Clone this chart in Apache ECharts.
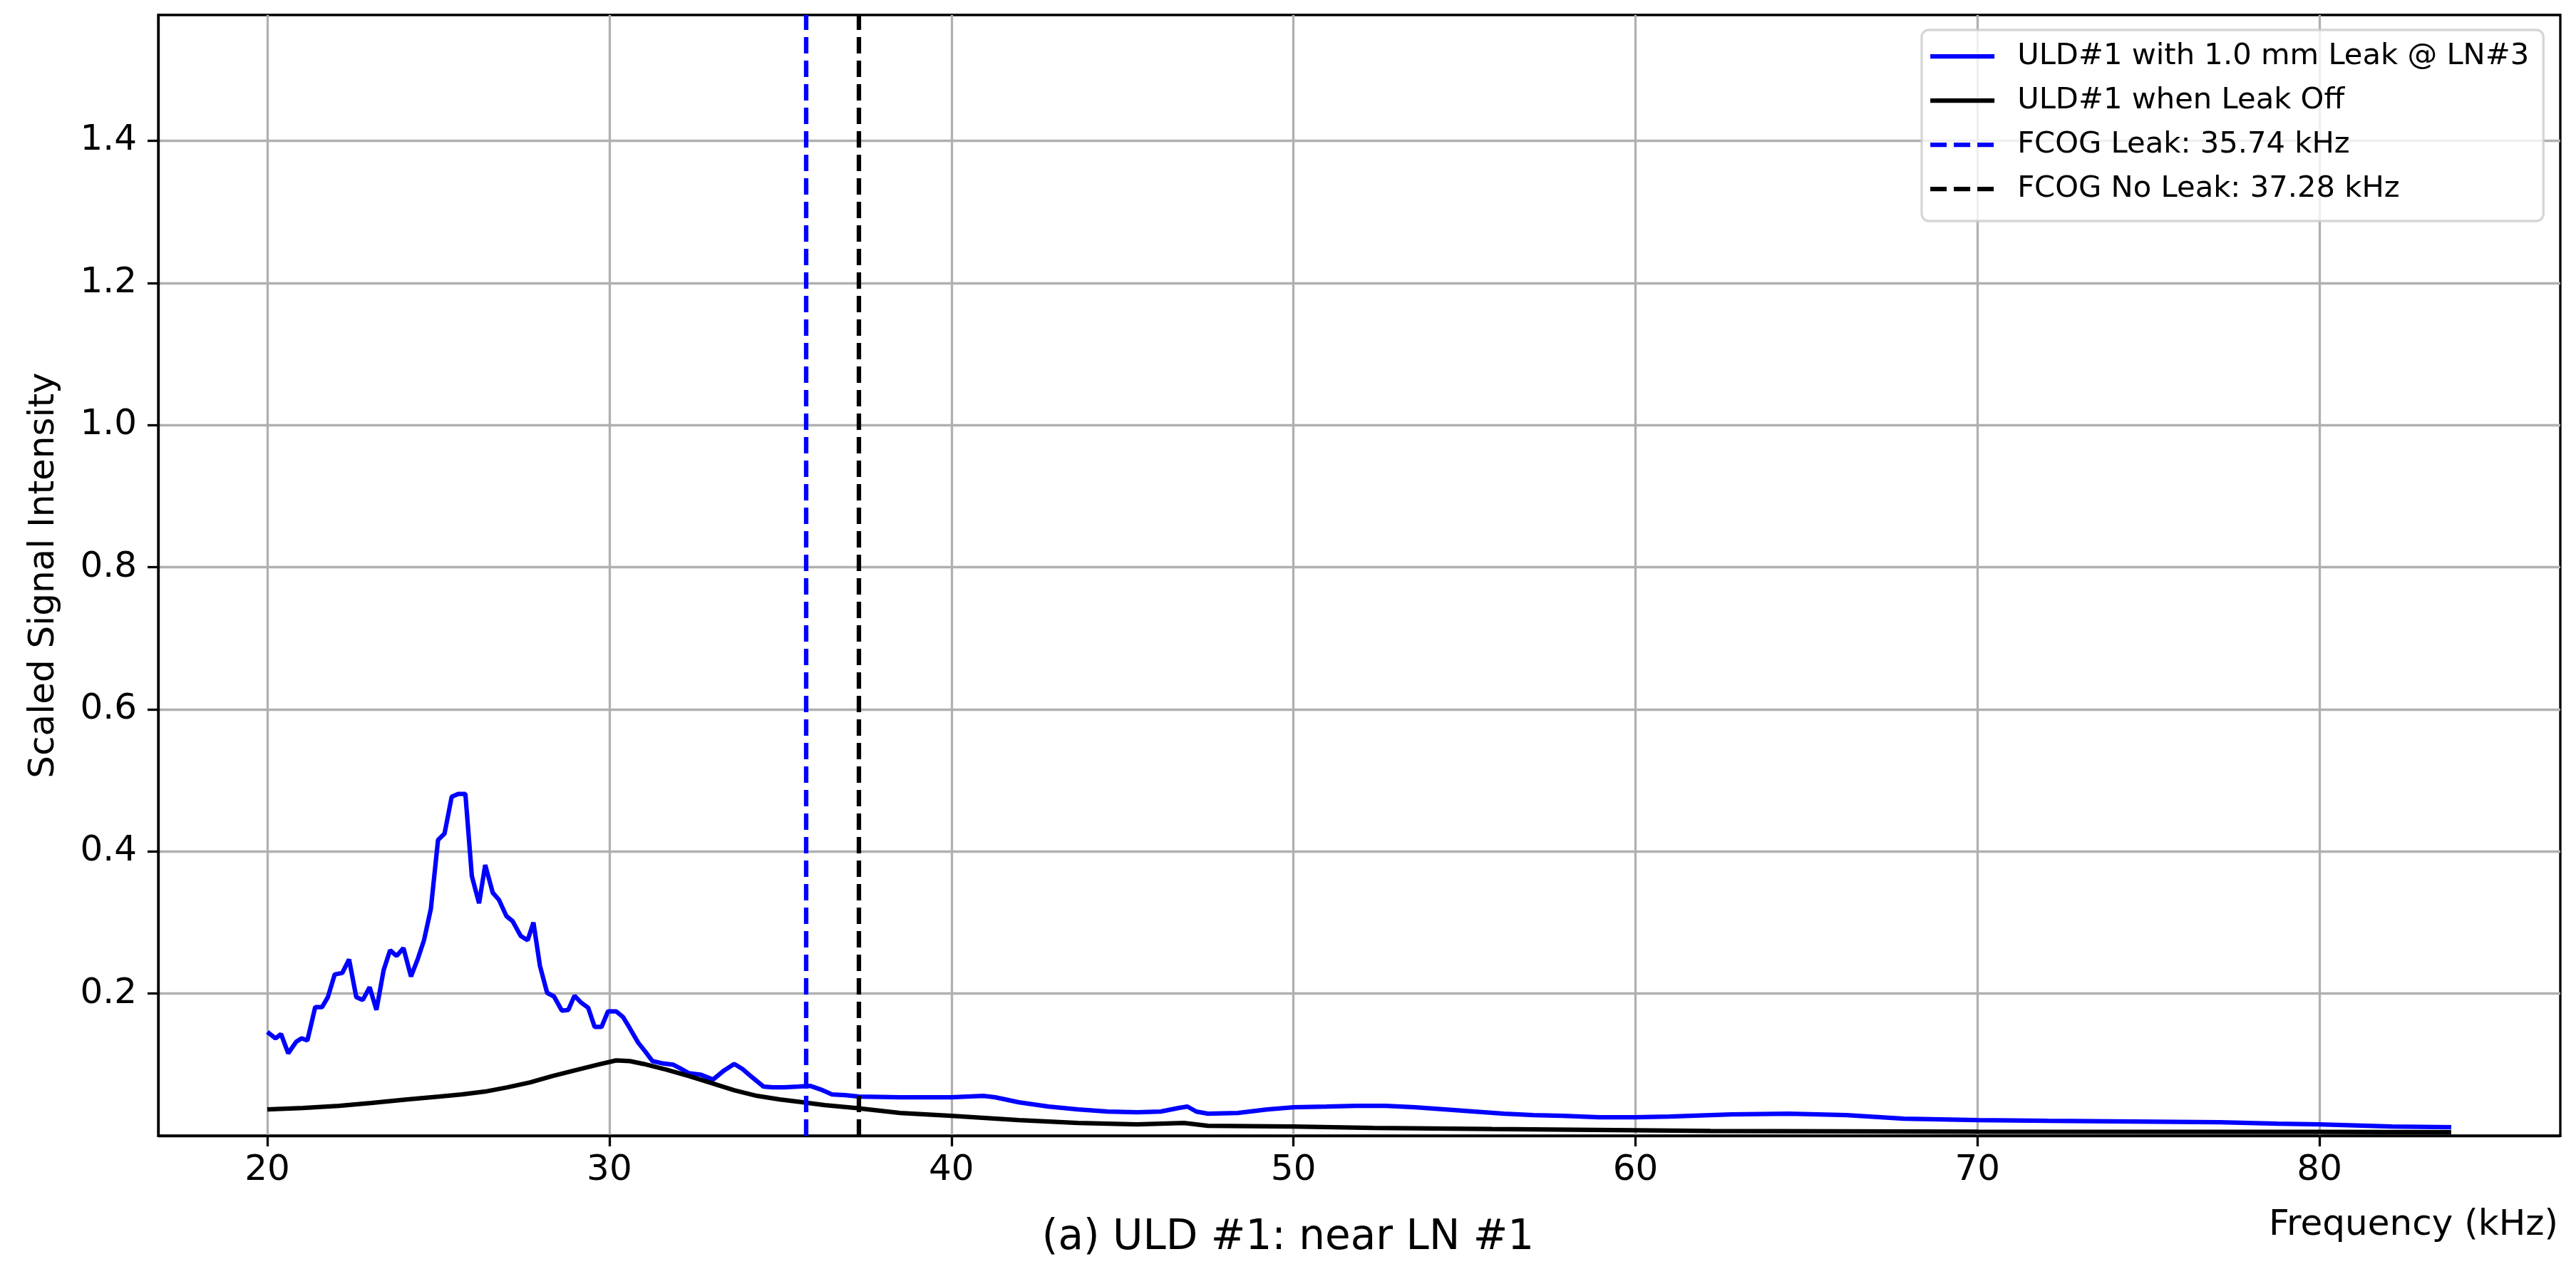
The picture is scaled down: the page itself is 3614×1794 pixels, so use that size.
<!DOCTYPE html>
<html>
<head>
<meta charset="utf-8">
<script src="https://cdn.jsdelivr.net/npm/echarts@6/dist/echarts.min.js"></script>
<style>
html,body{margin:0;padding:0;background:#fff;}
#chart{width:3614px;height:1794px;}
</style>
</head>
<body>
<div id="chart"></div>
<script>
// ---- data ----
const freqLeak = [20.0,20.24,20.4,20.61,20.84,21.0,21.17,21.4,21.6,21.77,21.97,22.19,22.39,22.6,22.79,22.99,23.19,23.4,23.59,23.78,23.98,24.2,24.4,24.58,24.78,24.99,25.18,25.39,25.58,25.79,25.98,26.19,26.37,26.59,26.77,26.99,27.17,27.41,27.61,27.78,27.97,28.18,28.38,28.61,28.8,28.98,29.18,29.38,29.57,29.77,29.96,30.2,30.4,30.6,30.84,31.04,31.26,31.53,31.86,32.06,32.32,32.66,33.03,33.36,33.65,33.89,34.18,34.51,34.78,35.11,35.51,35.88,36.18,36.51,36.9,37.3,38.5,40.0,40.93,41.28,41.97,42.84,43.7,44.57,45.43,46.12,46.64,46.9,47.16,47.5,48.37,49.24,50.0,50.97,51.83,52.7,53.56,54.43,55.29,56.16,57.02,57.89,58.93,60.0,61.0,62.8,64.49,66.17,67.85,70.0,72.05,74.57,77.09,78.77,80.0,82.13,83.85];
const sigLeak = [0.146,0.137,0.143,0.116,0.132,0.137,0.134,0.181,0.181,0.195,0.227,0.229,0.248,0.195,0.191,0.209,0.177,0.233,0.261,0.253,0.264,0.224,0.249,0.275,0.319,0.416,0.425,0.477,0.481,0.481,0.365,0.327,0.381,0.342,0.332,0.309,0.302,0.281,0.275,0.300,0.239,0.201,0.196,0.176,0.177,0.197,0.187,0.180,0.153,0.153,0.175,0.175,0.167,0.151,0.131,0.119,0.105,0.102,0.100,0.095,0.088,0.086,0.079,0.092,0.101,0.094,0.082,0.069,0.068,0.068,0.069,0.070,0.065,0.058,0.057,0.055,0.054,0.054,0.056,0.054,0.047,0.041,0.037,0.034,0.033,0.034,0.039,0.041,0.034,0.031,0.032,0.037,0.040,0.041,0.042,0.042,0.040,0.037,0.034,0.031,0.029,0.028,0.026,0.026,0.027,0.030,0.031,0.029,0.024,0.022,0.021,0.020,0.019,0.017,0.016,0.013,0.012];
const freqOff = [20.0,21.04,22.1,23.03,24.09,25.02,25.68,26.35,27.01,27.68,28.34,29.0,29.67,30.2,30.6,31.0,31.66,32.32,32.99,33.65,34.32,34.98,35.66,36.3,37.2,38.5,40.0,41.97,43.7,45.43,46.8,47.5,50.0,52.35,55.8,60.0,62.2,70.0,80.0,83.85];
const sigOff = [0.037,0.039,0.042,0.046,0.051,0.055,0.058,0.062,0.068,0.075,0.084,0.092,0.100,0.106,0.105,0.101,0.093,0.084,0.074,0.064,0.056,0.051,0.047,0.043,0.039,0.032,0.028,0.022,0.018,0.016,0.018,0.014,0.013,0.011,0.0094,0.0077,0.0067,0.0057,0.0054,0.005];
const fcogLeak = 35.74;
const fcogNoLeak = 37.28;
const seriesNames = ['ULD#1 with 1.0 mm Leak @ LN#3','ULD#1 when Leak Off','FCOG Leak: 35.74 kHz','FCOG No Leak: 37.28 kHz'];
const xTicks = [20,30,40,50,60,70,80];
const yTicks = [0.2,0.4,0.6,0.8,1.0,1.2,1.4];
const xLabel = 'Frequency (kHz)';
const yLabel = 'Scaled Signal Intensity';
const caption = '(a) ULD #1: near LN #1';

// ---- chart ----
const FONT = 'DejaVu Sans';
const zip = (xs, ys) => xs.map((x, i) => [x, ys[i]]);
const chart = echarts.init(document.getElementById('chart'), null, {renderer: 'canvas'});
const lw = 6.25;
const dash = [23, 10];
chart.setOption({
  animation: false,
  backgroundColor: '#ffffff',
  title: {
    text: caption, left: 'center', top: 1708, padding: 0,
    textStyle: {fontFamily: FONT, fontSize: 58, fontWeight: 'normal', color: '#000'}
  },
  grid: {left: 222, right: 22, top: 21, bottom: 201, show: true, borderColor: '#000', borderWidth: 3.3, backgroundColor: 'transparent'},
  legend: {
    data: seriesNames,
    orient: 'vertical',
    left: 2696, top: 42,
    padding: [6, 20, 14, 9],
    itemWidth: 90, itemHeight: 8, itemGap: 0,
    itemStyle: {opacity: 0},
    lineStyle: {width: lw},
    textStyle: {fontFamily: FONT, fontSize: 41.7, color: '#000', lineHeight: 62, padding: [0, 0, 0, 27]},
    backgroundColor: 'rgba(255,255,255,0.8)',
    borderColor: 'rgba(204,204,204,0.8)', borderWidth: 3.3, borderRadius: 10
  },
  xAxis: {
    type: 'value', min: 16.81, max: 87.04,
    name: xLabel, nameLocation: 'end', nameGap: 0,
    nameTextStyle: {fontFamily: FONT, fontSize: 50, color: '#000', align: 'right', verticalAlign: 'top', padding: [101, 3, 0, 0]},
    axisLine: {show: true, onZero: false, lineStyle: {color: '#000', width: 3.3}},
    axisTick: {show: true, customValues: xTicks, length: 15, lineStyle: {color: '#000', width: 3.3}},
    axisLabel: {show: true, customValues: xTicks, margin: 24, fontFamily: FONT, fontSize: 50, color: '#000'},
    splitLine: {show: true, lineStyle: {color: '#b0b0b0', width: 3.3}}
  },
  yAxis: {
    type: 'value', min: 0, max: 1.577,
    name: yLabel, nameLocation: 'middle', nameGap: 135,
    nameTextStyle: {fontFamily: FONT, fontSize: 50, color: '#000'},
    axisLine: {show: true, onZero: false, lineStyle: {color: '#000', width: 3.3}},
    axisTick: {show: true, customValues: yTicks, length: 15, lineStyle: {color: '#000', width: 3.3}},
    axisLabel: {show: true, customValues: yTicks, margin: 30, fontFamily: FONT, fontSize: 50, color: '#000', formatter: v => v.toFixed(1)},
    splitLine: {show: true, lineStyle: {color: '#b0b0b0', width: 3.3}}
  },
  series: [
    {name: seriesNames[0], type: 'line', data: zip(freqLeak, sigLeak), symbol: 'none', showSymbol: false, z: 3,
     color: '#0000ff', lineStyle: {color: '#0000ff', width: lw}},
    {name: seriesNames[1], type: 'line', data: zip(freqOff, sigOff), symbol: 'none', showSymbol: false, z: 4,
     color: '#000000', lineStyle: {color: '#000000', width: lw}},
    {name: seriesNames[2], type: 'line', data: [], symbol: 'none', showSymbol: false, z: 5,
     color: '#0000ff', lineStyle: {color: '#0000ff', width: lw, type: dash},
     markLine: {silent: true, symbol: 'none', label: {show: false},
       lineStyle: {color: '#0000ff', width: lw, type: dash}, data: [{xAxis: fcogLeak}]}},
    {name: seriesNames[3], type: 'line', data: [], symbol: 'none', showSymbol: false, z: 5,
     color: '#000000', lineStyle: {color: '#000000', width: lw, type: dash},
     markLine: {silent: true, symbol: 'none', label: {show: false},
       lineStyle: {color: '#000000', width: lw, type: dash}, data: [{xAxis: fcogNoLeak}]}}
  ]
});
</script>
</body>
</html>
